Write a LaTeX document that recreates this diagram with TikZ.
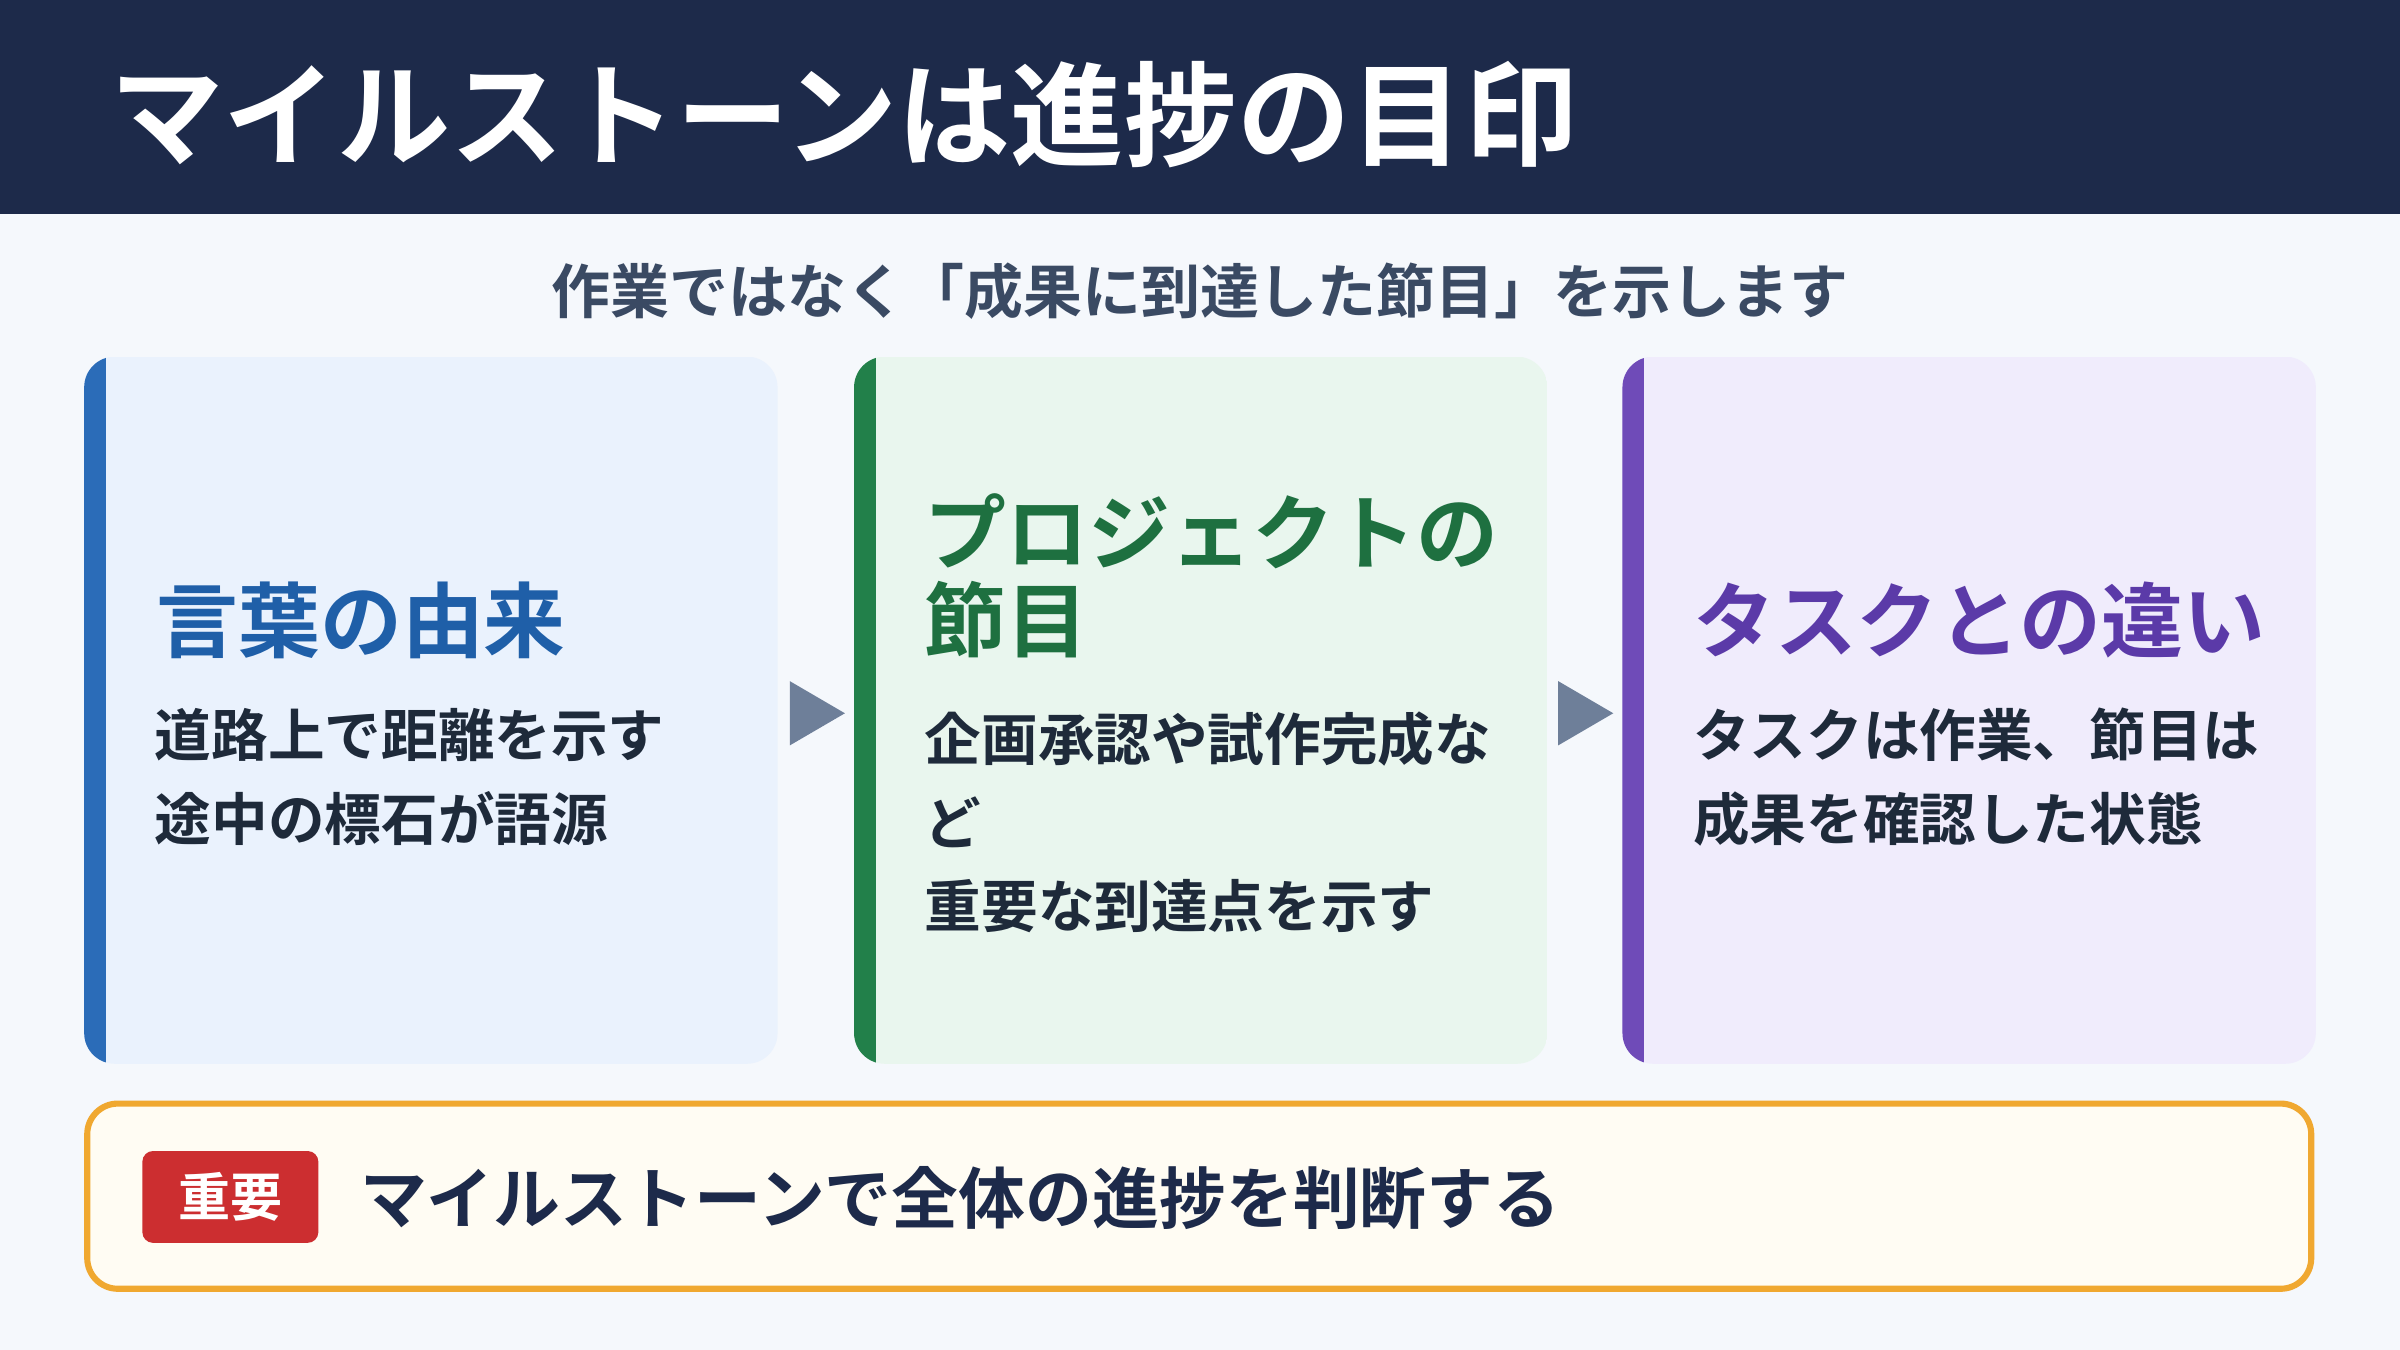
\documentclass[tikz,border=0pt]{standalone}
\usepackage{fontspec}
\setmainfont{Noto Sans CJK JP}[BoldFont={Noto Sans CJK JP Bold}]
\definecolor{navy}{HTML}{1D2A4A}
\definecolor{bg}{HTML}{F5F8FC}
\definecolor{sub}{HTML}{3A4A63}
\definecolor{dark}{HTML}{1E2A3A}
\definecolor{fb}{HTML}{EAF2FD}\definecolor{cb}{HTML}{2B6CB8}\definecolor{hb}{HTML}{1F5FA8}
\definecolor{fg}{HTML}{E9F6EE}\definecolor{cg}{HTML}{22804A}\definecolor{hg}{HTML}{1E7040}
\definecolor{fp}{HTML}{F0ECFC}\definecolor{cp}{HTML}{6F4BB8}\definecolor{hp}{HTML}{5B3AA8}
\definecolor{arr}{HTML}{6E7F99}
\definecolor{ob}{HTML}{F0A830}\definecolor{of}{HTML}{FFFCF3}\definecolor{red}{HTML}{CC2E30}
\newcommand{\fs}[1]{\fontsize{#1}{#1}\selectfont}
\tikzset{x=1pt,y=-1pt,
 txt/.style={anchor=west,inner sep=0pt,font=\bfseries\fs{37}},
 head/.style={anchor=west,inner sep=0pt,font=\bfseries\fs{53.5}},
 tri/.style={fill=arr,draw=none}}
\begin{document}
\begin{tikzpicture}
\useasboundingbox (0,0) rectangle (1568,882);
\fill[bg] (0,0) rectangle (1568,882);
\fill[navy] (0,0) rectangle (1568,140);
\node[anchor=west,inner sep=0pt,text=white,font=\bfseries\fs{74}] (title) at (72,75) {マイルストーンは進捗の目印};
\node[inner sep=0pt,text=sub,font=\bfseries\fs{38.5}] (sub) at (784,190) {作業ではなく「成果に到達した節目」を示します};
% cards
\foreach \x/\f/\c/\n in {55/fb/cb/c1,558/fg/cg/c2,1060/fp/cp/c3}{
 \begin{scope}
 \clip[rounded corners=20] (\x,233) rectangle (\x+453,695);
 \fill[\f] (\x,233) rectangle (\x+453,695);
 \fill[\c] (\x,233) rectangle (\x+14,695);
 \end{scope}
 \coordinate (\n) at (\x,233);
}
\node[head,text=hb] (h1) at (102,405) {言葉の由来};
\node[txt,text=dark] (b1a) at (101,480) {道路上で距離を示す};
\node[txt,text=dark] (b1b) at (101,535) {途中の標石が語源};
\node[head,text=hg] (h2a) at (604,347) {プロジェクトの};
\node[head,text=hg] (h2b) at (604,405) {節目};
\node[txt,text=dark] (b2a) at (604,483) {企画承認や試作完成な};
\node[txt,text=dark] (b2b) at (604,537) {ど};
\node[txt,text=dark] (b2c) at (604,592) {重要な到達点を示す};
\node[head,text=hp] (h3) at (1106,405) {タスクとの違い};
\node[txt,text=dark] (b3a) at (1106,480) {タスクは作業、節目は};
\node[txt,text=dark] (b3b) at (1106,535) {成果を確認した状態};
% arrows
\fill[tri] (516,445) -- (552,466) -- (516,487) -- cycle;
\fill[tri] (1018,445) -- (1054,466) -- (1018,487) -- cycle;
% bottom
\draw[ob,line width=4,fill=of,rounded corners=20] (57,721) rectangle (1510,842);
\fill[red,rounded corners=7] (93,752) rectangle (208,812);
\node[inner sep=0pt,text=white,font=\bfseries\fs{34}] (badge) at (150.5,782) {重要};
\node[anchor=west,inner sep=0pt,text=navy,font=\bfseries\fs{43.7}] (key) at (235,783) {マイルストーンで全体の進捗を判断する};
\end{tikzpicture}
\end{document}
